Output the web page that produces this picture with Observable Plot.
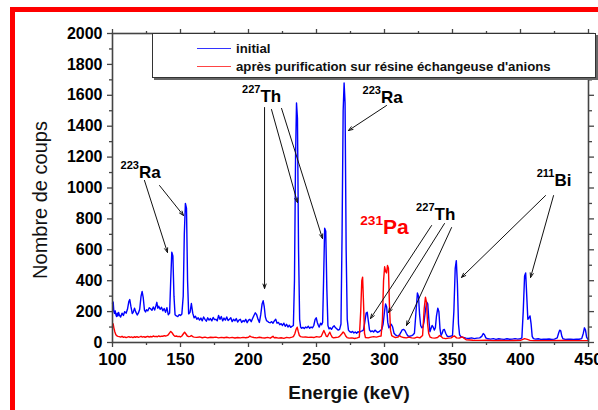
<!DOCTYPE html>
<html><head><meta charset="utf-8">
<script src="https://cdn.jsdelivr.net/npm/d3@7"></script>
<script src="https://cdn.jsdelivr.net/npm/@observablehq/plot@0.6"></script>
<style>
body{margin:0;background:#fff;}
#wrap{position:relative;width:598px;height:410px;overflow:hidden;background:#fff;font-family:"Liberation Sans",Arial,sans-serif;}
#border{position:absolute;left:10px;top:7px;width:700px;height:600px;border:5px solid #ff0000;pointer-events:none;}
#legend{position:absolute;left:152px;top:33px;width:442px;height:43px;border:1px solid #333;box-shadow:2px 2px 0 #666;background:#fff;font-weight:bold;font-size:13.2px;color:#111;}
.row{position:absolute;left:44px;height:16px;display:flex;align-items:center;}
.sw{width:34px;height:0;border-top:1.5px solid;margin-right:5px;}
svg{position:absolute;left:0;top:0;}
.atitle{position:absolute;white-space:nowrap;color:#111;line-height:1;}
#xt{left:349px;top:392px;transform:translate(-50%,-50%);font-size:19px;font-weight:bold;}
#yt{left:40px;top:200px;transform:translate(-50%,-50%) rotate(-90deg);font-size:20px;}
</style>
</head><body>
<div id="wrap">
<div id="legend">
  <div class="row" style="top:6px"><div class="sw" style="border-color:#3333ff"></div><span>initial</span></div>
  <div class="row" style="top:24px"><div class="sw" style="border-color:#ff4444"></div><span>après purification sur résine échangeuse d'anions</span></div>
</div>
<div class="atitle" id="xt">Energie (keV)</div>
<div class="atitle" id="yt">Nombre de coups</div>
<div id="border"></div>
</div>
<script>
const xTicks = [100,150,200,250,300,350,400,450];
const xMinor = [125,175,225,275,325,375,425];
const yTicks = [0,200,400,600,800,1000,1200,1400,1600,1800,2000];
const yMinor = [100,300,500,700,900,1100,1300,1500,1700,1900];

// initial spectrum [keV, counts]
const initial = [[100,255],[100.5,262],[101,200],[101.5,188],[102,205],[102.5,180],[103,168],[103.5,190],[104,172],[104.5,195],[105,178],[106,165],[107,190],[108,175],[109,200],[110,190],[111,215],[112,265],[112.7,278],[113.5,235],[114.5,188],[115.2,195],[116.2,222],[117,200],[118.2,178],[119,190],[120,215],[121,300],[121.8,330],[122.6,290],[123.5,210],[124.3,198],[125,212],[126,205],[127,225],[128,218],[129,208],[130,230],[131,210],[132,240],[132.6,260],[133.3,222],[134,235],[135,215],[136,228],[137,205],[138,220],[139,195],[140,225],[141,180],[142,190],[142.8,400],[143.6,585],[144.4,560],[145.2,300],[146,180],[147,172],[148,168],[149,180],[150,175],[151,185],[152,300],[152.8,700],[153.6,900],[154.4,870],[155.2,400],[156,185],[157,195],[158,252],[159,190],[160,160],[161,170],[162,150],[163,160],[164,145],[165,158],[166,140],[167,165],[168,150],[169,138],[170,160],[171,145],[172,155],[173,140],[174,162],[175,148],[176,150],[177,140],[178,175],[179,150],[180,168],[181,140],[182,158],[183,145],[184,165],[185,142],[186,150],[187,160],[188,135],[189,150],[190,140],[191,155],[192,132],[193,145],[194,150],[195,130],[196,142],[197,135],[198,150],[199,128],[200,145],[201,150],[202,135],[203,155],[204,175],[205,192],[206,180],[207,150],[208,130],[209,180],[210,250],[210.8,270],[211.6,230],[212.4,165],[213.3,140],[214,138],[215,130],[216,128],[217,135],[218,125],[219,140],[220,150],[221,125],[222,130],[223,115],[224,122],[225,110],[226,125],[227,105],[228,118],[229,100],[230,112],[231,98],[232,105],[233,110],[233.8,400],[234.6,1200],[235.3,1550],[236,1450],[236.8,600],[237.6,150],[238.3,100],[239,92],[240,98],[241,90],[242,100],[243,95],[244,105],[245,92],[246,100],[247,95],[248,110],[249,150],[249.8,160],[250.6,130],[251.4,110],[252,100],[253,125],[253.8,115],[254.5,130],[255.2,400],[256,740],[256.8,720],[257.6,350],[258.4,110],[259.2,88],[260,95],[261,85],[262,100],[263,108],[264,95],[265,88],[266,80],[267,85],[268,120],[268.8,700],[269.6,1500],[270.3,1680],[271,1550],[271.8,600],[272.6,150],[273.5,80],[274.5,70],[275.5,65],[276.5,72],[277.5,62],[278.5,68],[279.5,60],[280.5,70],[281.5,65],[282.5,72],[283.5,75],[284.5,80],[285.5,130],[286.5,190],[287.3,196],[288.1,140],[289,80],[290,70],[291,75],[292,68],[293,80],[294,72],[295,65],[296,70],[297,78],[298,85],[299,120],[300,200],[300.8,250],[301.6,230],[302.4,130],[303.2,95],[304,105],[305,118],[306,100],[307,60],[308,50],[309,45],[310,42],[311,50],[312,65],[313,82],[314,85],[315,78],[316,60],[317,45],[318,40],[319,42],[320,45],[321,50],[322,60],[323,180],[324.2,320],[325,300],[325.8,180],[326.6,110],[327.4,95],[328.2,100],[329,130],[330,200],[331,262],[331.8,250],[332.6,150],[333.4,70],[334.2,90],[335,110],[335.8,100],[336.6,80],[337.4,95],[338.2,170],[339.2,222],[340,200],[340.8,90],[341.6,45],[342.4,60],[343.2,82],[344,85],[345,60],[346,42],[347,38],[348,40],[349,42],[350,45],[351,200],[352,480],[352.8,530],[353.6,380],[354.4,120],[355.2,50],[356,40],[357,35],[358,32],[360,28],[362,26],[364,30],[366,25],[368,28],[370,30],[371.5,40],[372.6,58],[373.5,50],[374.5,30],[376,24],[378,22],[380,25],[382,20],[384,24],[386,22],[388,20],[390,24],[392,21],[394,22],[396,25],[398,22],[400,24],[401,30],[402,200],[403,430],[403.8,450],[404.6,300],[405.4,150],[406.2,160],[407,172],[407.8,120],[408.6,40],[409.5,25],[411,22],[413,24],[415,20],[417,22],[419,21],[421,23],[423,20],[425,22],[427,30],[428,60],[428.8,80],[429.6,75],[430.4,40],[431.2,24],[433,20],[435,22],[437,21],[439,20],[441,22],[443,21],[445,25],[446.2,60],[447,95],[447.8,80],[448.6,35],[449.5,22],[450,20]];

// after anion-exchange purification [keV, counts]
const purified = [[100,110],[100.5,121],[101,95],[101.7,70],[102.4,52],[103,45],[104,40],[105,38],[106,35],[107,40],[108,33],[109,36],[110,32],[111,35],[112,38],[113,33],[114,36],[115,32],[116,37],[117,34],[118,38],[119,33],[120,36],[121,40],[122,35],[123,38],[124,34],[125,37],[126,40],[127,35],[128,39],[129,36],[130,42],[131,38],[132,40],[133,37],[134,43],[135,38],[136,41],[137,40],[138,44],[139,42],[140,45],[141,50],[142,62],[142.8,72],[143.6,65],[144.4,55],[145.2,45],[146,40],[147,42],[148,38],[149,40],[150,36],[151,42],[152,55],[153,67],[154,55],[155,42],[156,38],[157,40],[158,45],[159,38],[160,35],[162,33],[164,36],[166,31],[168,35],[170,30],[172,34],[174,32],[176,35],[178,30],[180,33],[182,31],[184,34],[186,30],[188,33],[190,29],[192,32],[194,30],[196,33],[198,31],[200,34],[201,42],[202,36],[204,32],[206,30],[208,34],[210,31],[212,29],[214,33],[216,28],[218,40],[219,30],[220,32],[222,28],[224,31],[226,27],[228,33],[230,30],[232,35],[233,38],[234,55],[235,85],[235.8,99],[236.6,70],[237.4,45],[238.3,38],[240,35],[242,36],[244,33],[246,35],[248,32],[250,38],[252,35],[253.5,40],[254.5,60],[255.4,78],[256.3,60],[257.2,40],[258,38],[259,55],[259.8,67],[260.6,50],[261.5,35],[262.5,30],[264,32],[266,35],[267,40],[268.5,55],[269.6,68],[270.5,60],[271.5,42],[272.5,32],[274,28],[276,30],[278,26],[280,30],[281.5,35],[282.5,200],[283.3,400],[283.9,423],[284.6,250],[285.3,60],[286,32],[288,30],[290,35],[292,38],[294,35],[296,40],[297.5,42],[298.5,150],[299.3,400],[300.1,490],[300.8,460],[301.5,450],[302.2,498],[302.9,480],[303.6,250],[304.4,80],[305.3,45],[306.5,38],[308,32],[310,35],[311,45],[312,38],[314,32],[316,30],[318,35],[320,30],[322,28],[324,35],[326,30],[328,45],[329.2,220],[330.1,293],[330.9,260],[331.7,120],[332.5,58],[333.5,35],[335,30],[337,28],[339,32],[340.5,45],[341.5,40],[343,28],[345,25],[347,28],[349,30],[350.5,40],[351.5,42],[353,30],[355,28],[356.5,35],[357.5,36],[358.5,28],[360,18],[365,15],[370,14],[375,15],[380,12],[385,14],[390,12],[395,13],[400,14],[403,25],[405,20],[407,14],[410,12],[420,12],[430,13],[440,12],[450,12]];

// annotations: isotope labels (superscript mass, symbol) anchored in data units
const labelX   = [119.5, 208.8, 297.4, 298.9, 336.8, 425];
const labelY   = [1100, 1592, 1586, 744, 828, 1049];
const labelSup = ["223","227","223","231","227","211"];
const labelMain= ["Ra","Th","Ra","Pa","Th","Bi"];
const labelColor=["#000","#000","#000","#ff0000","#000","#000"];
const labelSize= [17,17,17,21,17,17];

// arrows: start (x1,y1) -> tip (x2,y2), data units
const arrowX1 = [123.5, 134.6, 211.8, 216.9, 224.3, 301.5, 334.6, 344.1, 349.3, 418.4, 424.3];
const arrowY1 = [1049, 1016, 1521, 1508, 1515, 1534, 757, 770, 744, 951, 951];
const arrowX2 = [140.4, 152.2, 211.8, 236.0, 254.4, 273.5, 289.7, 302.9, 316.2, 356.6, 407.4];
const arrowY2 = [583, 822, 350, 906, 673, 1372, 155, 194, 110, 421, 421];

const labels = labelX.map((x,i)=>({x, y:labelY[i], sup:labelSup[i], main:labelMain[i], color:labelColor[i], size:labelSize[i]}));
const arrows = arrowX1.map((x1,i)=>({x1, y1:arrowY1[i], x2:arrowX2[i], y2:arrowY2[i]}));

const blank = () => "";
const plain = d => String(d);
const axisColor = "#444";
const chart = Plot.plot({
  width: 598, height: 410,
  marginLeft: 112, marginRight: 10, marginTop: 33, marginBottom: 68,
  style: {fontFamily: "'Liberation Sans', Arial, sans-serif", background: "transparent", color: "#000"},
  x: {domain: [100, 450]},
  y: {domain: [0, 2000]},
  marks: [
    Plot.line(initial, {x: d=>d[0], y: d=>d[1], stroke: "#0000ff", strokeWidth: 1.4}),
    Plot.line(purified, {x: d=>d[0], y: d=>d[1], stroke: "#ff0000", strokeWidth: 1.4}),
    Plot.arrow(arrows, {x1:"x1", y1:"y1", x2:"x2", y2:"y2", stroke:"#111", strokeWidth:1, headLength:7, headAngle:40}),
    Plot.text(labels, {x:"x", y:"y", text:"sup", textAnchor:"end", dy:-7, fill:d=>d.color, fontSize:d=>d.size*0.65, fontWeight:"bold"}),
    Plot.text(labels, {x:"x", y:"y", text:"main", textAnchor:"start", fill:d=>d.color, fontSize:d=>d.size, fontWeight:"bold"}),
    Plot.frame({stroke: axisColor, strokeWidth: 1.6}),
    Plot.axisX(xTicks, {anchor:"bottom", tickSize:5, tickPadding:5, tickFormat:plain, fontSize:17, fontWeight:"bold", label:null, stroke:axisColor, strokeWidth:1.3}),
    Plot.axisX(xMinor, {anchor:"bottom", tickSize:3, tickFormat:blank, label:null, stroke:axisColor, strokeWidth:1.3}),
    Plot.axisX(xTicks, {anchor:"top", tickSize:5, tickFormat:blank, label:null, stroke:axisColor, strokeWidth:1.3}),
    Plot.axisX(xMinor, {anchor:"top", tickSize:3, tickFormat:blank, label:null, stroke:axisColor, strokeWidth:1.3}),
    Plot.axisY(yTicks, {anchor:"left", tickSize:5, tickPadding:5, tickFormat:plain, fontSize:16, fontWeight:"bold", label:null, stroke:axisColor, strokeWidth:1.3}),
    Plot.axisY(yMinor, {anchor:"left", tickSize:3, tickFormat:blank, label:null, stroke:axisColor, strokeWidth:1.3}),
    Plot.axisY(yTicks, {anchor:"right", tickSize:5, tickFormat:blank, label:null, stroke:axisColor, strokeWidth:1.3}),
    Plot.axisY(yMinor, {anchor:"right", tickSize:3, tickFormat:blank, label:null, stroke:axisColor, strokeWidth:1.3})
  ]
});
document.getElementById("wrap").insertBefore(chart, document.getElementById("legend"));
</script>
</body></html>
